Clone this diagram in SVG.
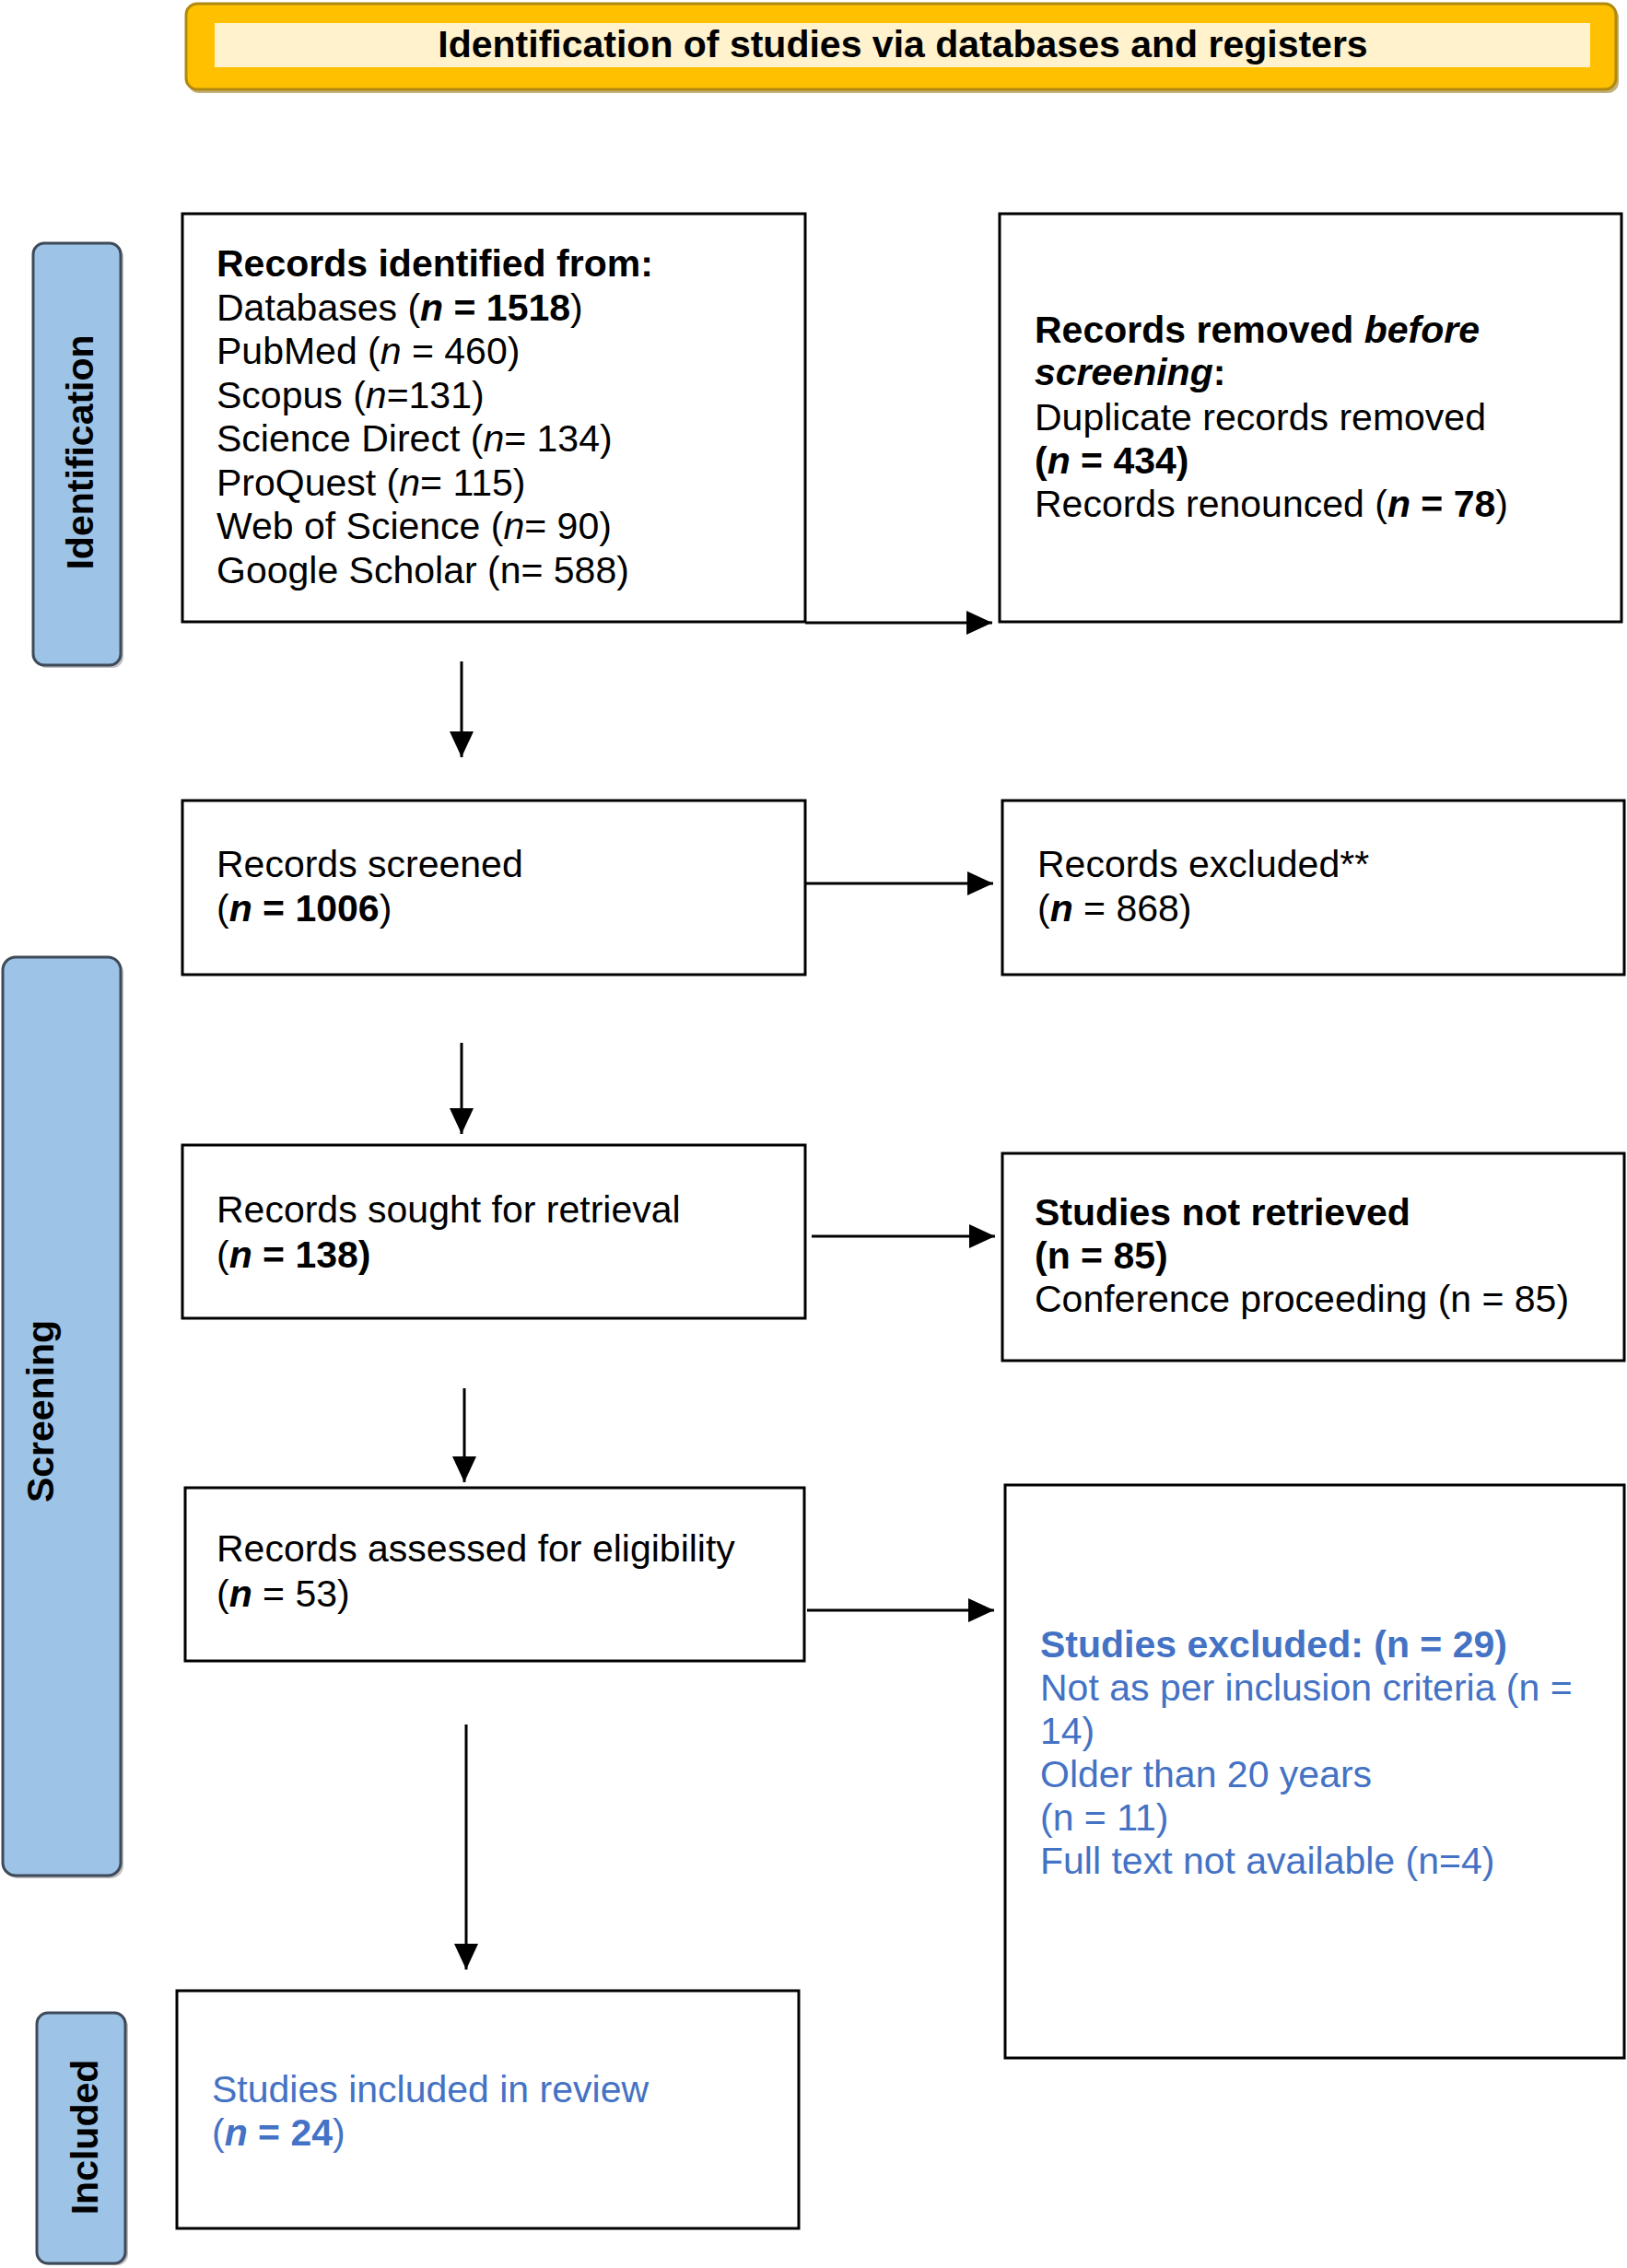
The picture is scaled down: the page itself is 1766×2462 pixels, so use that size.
<svg xmlns="http://www.w3.org/2000/svg" width="1766" height="2462" viewBox="0 0 1766 2462">
  <defs>
    <marker id="arrow" markerUnits="userSpaceOnUse" markerWidth="30" markerHeight="28" refX="28" refY="13" orient="auto">
      <path d="M0,0 L28,13 L0,26 z" fill="#000"/>
    </marker>
  </defs>
  <style>
    text { font-family: 'Liberation Sans', Arial, sans-serif; font-size: 41px; fill: #000; }
    .b { font-weight: bold; }
    .i { font-style: italic; }
    .blue, .blue tspan { fill: #4472C4; }
    .box { fill: #fff; stroke: #000; stroke-width: 3; }
    .side { fill: #9DC3E6; stroke: #3E4A59; stroke-width: 3; }
    .shadow { fill: #8a8a8a; opacity: 0.55; }
    .side-text { font-weight: bold; font-size: 41px; }
    .conn { stroke: #000; stroke-width: 3; fill: none; marker-end: url(#arrow); }
  </style>

  <g id="header">
    <rect x="204" y="7" width="1553" height="94" rx="12" fill="#9a7a20" opacity="0.6"/>
    <rect x="202" y="4" width="1552" height="93" rx="12" fill="#FFC000" stroke="#B08A10" stroke-width="3"/>
    <rect x="233" y="25" width="1493" height="48" fill="#FFF2CC"/>
    <text x="980" y="62" text-anchor="middle" class="b" style="font-size:41px">Identification of studies via databases and registers</text>
  </g>

  <g id="label-identification">
    <rect class="shadow" x="39" y="267" width="95" height="458" rx="12"/>
    <rect class="side" x="36" y="264" width="95" height="458" rx="12"/>
    <text class="side-text" transform="translate(101,491) rotate(-90)" text-anchor="middle">Identification</text>
  </g>

  <g id="label-screening">
    <rect class="shadow" x="6" y="1042" width="128" height="997" rx="14"/>
    <rect class="side" x="3" y="1039" width="128" height="997" rx="14"/>
    <text class="side-text" transform="translate(58,1532) rotate(-90)" text-anchor="middle">Screening</text>
  </g>

  <g id="label-included">
    <rect class="shadow" x="43" y="2188" width="96" height="271" rx="12"/>
    <rect class="side" x="40" y="2185" width="96" height="272" rx="12"/>
    <text class="side-text" transform="translate(106,2320) rotate(-90)" text-anchor="middle">Included</text>
  </g>

  <g id="records-identified">
    <rect class="box" x="198" y="232" width="676" height="443"/>
    <text x="235" y="300" class="b">Records identified from:</text>
    <text x="235" y="347.5">Databases (<tspan class="b i">n</tspan><tspan class="b"> = 1518</tspan>)</text>
    <text x="235" y="395">PubMed (<tspan class="i">n</tspan> = 460)</text>
    <text x="235" y="442.5">Scopus (<tspan class="i">n</tspan>=131)</text>
    <text x="235" y="490">Science Direct (<tspan class="i">n</tspan>= 134)</text>
    <text x="235" y="537.5">ProQuest (<tspan class="i">n</tspan>= 115)</text>
    <text x="235" y="585">Web of Science (<tspan class="i">n</tspan>= 90)</text>
    <text x="235" y="632.5">Google Scholar (n= 588)</text>
  </g>

  <g id="records-removed">
    <rect class="box" x="1085" y="232" width="675" height="443"/>
    <text x="1123" y="372" class="b">Records removed <tspan class="i">before</tspan></text>
    <text x="1123" y="418" class="b"><tspan class="i">screening</tspan>:</text>
    <text x="1123" y="467">Duplicate records removed</text>
    <text x="1123" y="514" class="b">(<tspan class="i">n</tspan> = 434)</text>
    <text x="1123" y="561">Records renounced (<tspan class="b i">n</tspan><tspan class="b"> = 78</tspan>)</text>
  </g>

  <g id="records-screened">
    <rect class="box" x="198" y="869" width="676" height="189"/>
    <text x="235" y="952">Records screened</text>
    <text x="235" y="1000">(<tspan class="b i">n</tspan><tspan class="b"> = 1006</tspan>)</text>
  </g>

  <g id="records-excluded">
    <rect class="box" x="1088" y="869" width="675" height="189"/>
    <text x="1126" y="952">Records excluded**</text>
    <text x="1126" y="1000">(<tspan class="b i">n</tspan> = 868)</text>
  </g>

  <g id="records-sought">
    <rect class="box" x="198" y="1243" width="676" height="188"/>
    <text x="235" y="1327">Records sought for retrieval</text>
    <text x="235" y="1376">(<tspan class="b i">n</tspan><tspan class="b"> = 138)</tspan></text>
  </g>

  <g id="studies-not-retrieved">
    <rect class="box" x="1088" y="1252" width="675" height="225"/>
    <text x="1123" y="1330" class="b">Studies not retrieved</text>
    <text x="1123" y="1377" class="b">(n = 85)</text>
    <text x="1123" y="1424">Conference proceeding (n = 85)</text>
  </g>

  <g id="records-assessed">
    <rect class="box" x="201" y="1615" width="672" height="188"/>
    <text x="235" y="1695">Records assessed for eligibility</text>
    <text x="235" y="1744">(<tspan class="b i">n</tspan> = 53)</text>
  </g>

  <g id="studies-excluded">
    <rect class="box" x="1091" y="1612" width="672" height="622"/>
    <text x="1129" y="1799" class="blue b">Studies excluded: (n = 29)</text>
    <text x="1129" y="1846" class="blue">Not as per inclusion criteria (n =</text>
    <text x="1129" y="1893" class="blue">14)</text>
    <text x="1129" y="1940" class="blue">Older than 20 years</text>
    <text x="1129" y="1987" class="blue">(n = 11)</text>
    <text x="1129" y="2034" class="blue">Full text not available (n=4)</text>
  </g>

  <g id="studies-included">
    <rect class="box" x="192" y="2161" width="675" height="258"/>
    <text x="230" y="2282" class="blue">Studies included in review</text>
    <text x="230" y="2329" class="blue">(<tspan class="b i">n</tspan><tspan class="b"> = 24</tspan>)</text>
  </g>

  <g id="connectors">
    <line class="conn" x1="874" y1="676" x2="1077" y2="676"/>
    <line class="conn" x1="874" y1="959" x2="1078" y2="959"/>
    <line class="conn" x1="881" y1="1342" x2="1080" y2="1342"/>
    <line class="conn" x1="876" y1="1748" x2="1079" y2="1748"/>
    <line class="conn" x1="501" y1="718" x2="501" y2="822"/>
    <line class="conn" x1="501" y1="1132" x2="501" y2="1231"/>
    <line class="conn" x1="504" y1="1507" x2="504" y2="1609"/>
    <line class="conn" x1="506" y1="1872" x2="506" y2="2138"/>
  </g>
</svg>
